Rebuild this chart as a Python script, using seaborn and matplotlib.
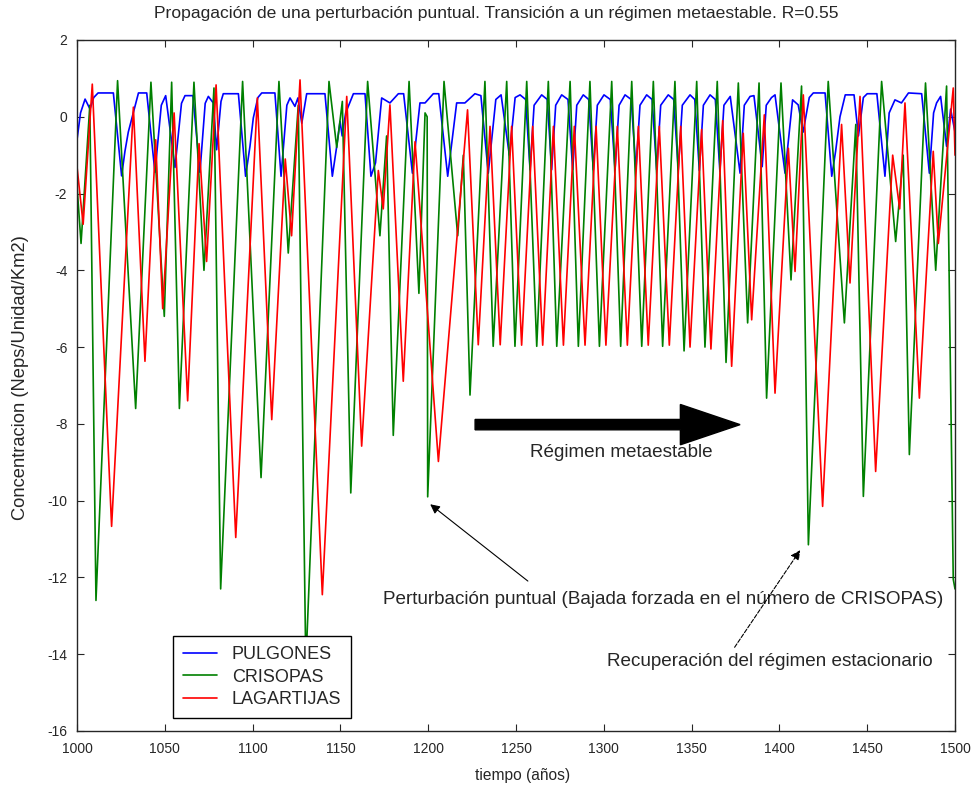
import numpy as np
import pandas as pd
import matplotlib
matplotlib.use('Agg')
import matplotlib.pyplot as plt
import seaborn as sns

# Peaks and troughs (year, concentration)
green_t = [1000, 1002.3, 1007.3, 1010.8, 1023.1, 1033.4, 1042.1, 1049.7, 1053.9, 1058.3,
           1066.6, 1072.3, 1078.0, 1081.8, 1094.3, 1104.8, 1115.0, 1120.3, 1126.0, 1130.3,
           1143.5, 1147.9, 1151.1, 1155.9, 1165.5, 1172.5, 1176.3, 1180.1, 1189.1, 1194.7,
           1198.2, 1199.4, 1199.7, 1209.0, 1216.8, 1220.0, 1223.8, 1232.3, 1237.0, 1244.7,
           1249.4, 1256.1, 1261.8, 1268.4, 1273.2, 1280.8, 1285.5, 1292.1, 1297.5, 1304.5,
           1309.6, 1315.9, 1321.6, 1328.2, 1333.5, 1340.5, 1345.7, 1352.9, 1357.6, 1364.6,
           1369.6, 1376.6, 1381.9, 1388.4, 1392.7, 1400.9, 1406.6, 1412.6, 1416.5, 1427.8,
           1437.0, 1443.5, 1447.8, 1458.2, 1466.2, 1470.5, 1474.0, 1483.2, 1489.0, 1495.2,
           1499.0, 1500]
green_v = [-1.8, -3.3, 0.3, -12.6, 0.94, -7.6, 0.9, -5.2, 0.9, -7.6,
           0.9, -4.0, 0.75, -12.3, 0.92, -9.4, 0.92, -3.55, 0.3, -14.3,
           0.92, -0.8, 0.4, -9.8, 0.92, -3.1, -0.5, -8.3, 0.92, -4.6,
           0.1, 0.0, -9.9, 0.92, -3.1, -1.0, -7.25, 0.92, -5.98, 0.92,
           -5.98, 0.92, -5.98, 0.92, -5.98, 0.92, -5.98, 0.92, -5.98, 0.92,
           -5.98, 0.92, -5.98, 0.92, -5.98, 0.92, -6.1, 0.92, -6.0, 0.92,
           -6.4, 0.88, -5.37, 0.88, -7.33, 0.88, -4.25, 0.8, -11.15, 0.92,
           -5.37, -0.2, -9.89, 0.92, -3.25, -1.0, -8.8, 0.88, -4.0, 0.8,
           -12.05, -12.3]

red_t = [1000, 1003.5, 1008.7, 1019.7, 1032.1, 1038.7, 1044.8, 1048.8, 1055.3, 1063.0,
         1069.5, 1073.8, 1079.2, 1090.4, 1102.7, 1110.9, 1118.6, 1122.2, 1127.0, 1139.7,
         1153.6, 1162.1, 1171.6, 1174.4, 1178.2, 1185.8, 1192.5, 1205.8, 1222.4, 1228.5,
         1235.2, 1241.0, 1247.5, 1253.2, 1259.5, 1265.2, 1271.3, 1277.0, 1283.2, 1289.3,
         1295.6, 1301.2, 1307.7, 1313.4, 1319.7, 1325.3, 1331.6, 1337.3, 1343.8, 1349.1,
         1355.7, 1361.0, 1367.7, 1372.8, 1379.4, 1384.2, 1391.4, 1397.5, 1405.1, 1408.9,
         1413.6, 1424.6, 1435.4, 1440.2, 1445.9, 1454.8, 1464.5, 1468.5, 1471.5, 1479.7,
         1487.6, 1490.5, 1499.0, 1500]
red_v = [-1.3, -2.8, 0.85, -10.67, 0.25, -6.37, -0.6, -5.0, 0.1, -7.4,
         -0.7, -3.77, 0.83, -10.96, 0.49, -7.89, -1.1, -3.1, 0.96, -12.45,
         0.53, -8.58, -1.4, -2.4, 0.31, -6.89, -0.65, -8.98, 0.18, -5.94,
         -0.25, -5.94, -0.25, -5.95, -0.25, -5.95, -0.25, -5.95, -0.25, -5.95,
         -0.25, -5.95, -0.25, -5.95, -0.25, -5.95, -0.25, -5.95, -0.25, -6.0,
         -0.33, -6.05, -0.1, -6.5, -0.43, -5.29, 0.05, -7.2, -0.82, -4.03,
         0.57, -10.15, -0.2, -4.33, 0.53, -9.24, -1.0, -2.4, 0.36, -7.33,
         -0.9, -3.3, 0.75, -1.0]

blue_t = [1000, 1002.0, 1004.6, 1007.4, 1009.5, 1012.0, 1020.7, 1025.4, 1027.3, 1029.2,
          1032.1, 1035.0, 1039.7, 1044.4, 1048.0, 1050.5, 1055.8, 1059.5, 1061.5, 1066.0,
          1070.0, 1073.0, 1074.8, 1077.6, 1079.5, 1082.0, 1083.3, 1091.9, 1096.0, 1098.5,
          1100.4, 1103.0, 1105.2, 1112.7, 1116.2, 1119.5, 1121.3, 1124.1, 1125.8, 1128.0,
          1130.8, 1141.2, 1145.4, 1147.9, 1149.8, 1151.0, 1153.0, 1157.4, 1164.0, 1167.4,
          1170.0, 1173.5, 1178.2, 1183.0, 1186.0, 1191.0, 1195.3, 1198.2, 1202.9, 1206.0,
          1211.1, 1216.2, 1220.9, 1226.6, 1230.0, 1234.2, 1238.5, 1241.5, 1246.2, 1249.5,
          1252.3, 1255.5, 1258.0, 1260.3, 1264.6, 1267.8, 1270.3, 1272.6,
          1276.0, 1279.6, 1282.3, 1284.6, 1288.3, 1291.4, 1294.0, 1296.3,
          1300.1, 1303.7, 1306.4, 1308.7, 1312.1, 1315.6, 1318.3, 1320.6,
          1324.4, 1327.5, 1330.1, 1332.4, 1336.7, 1339.8, 1342.4, 1344.7,
          1349.1, 1351.8, 1354.4, 1356.7, 1360.5, 1363.5, 1366.1, 1368.4,
          1372.0, 1377.6, 1380.0, 1383.3, 1385.5, 1390.2, 1392.5, 1395.5, 1397.5, 1403.2,
          1407.5, 1410.7, 1413.5, 1417.0, 1419.3, 1426.0, 1429.8, 1432.0, 1434.5, 1437.5,
          1442.5, 1445.0, 1447.8, 1450.0, 1455.5, 1460.1, 1462.5, 1465.8, 1469.5, 1473.5,
          1481.0, 1485.4, 1487.8, 1489.5, 1491.8, 1495.2, 1497.5, 1500]
blue_v = [-0.6, 0.1, 0.46, 0.2, 0.5, 0.62, 0.62, -1.54, -0.9, -0.4,
          0.11, 0.62, 0.62, -1.45, 0.3, 0.55, -1.32, 0.35, 0.55, 0.55,
          -1.45, 0.35, 0.53, 0.36, -0.86, 0.4, 0.6, 0.6, -1.55, -0.77,
          -0.03, 0.5, 0.62, 0.62, -1.55, 0.3, 0.49, 0.27, 0.49, -0.17,
          0.6, 0.6, -1.55, -0.77, -0.12, -0.5, 0.1, 0.6, 0.6, -1.55,
          -1.2, 0.49, 0.36, 0.6, 0.6, -1.47, 0.36, 0.36, 0.6, 0.6,
          -1.55, 0.36, 0.36, 0.6, 0.55, -1.47, 0.45, 0.57, -1.0, 0.5,
          0.57, 0.45, -1.38, 0.3, 0.57, 0.45, -1.38, 0.3,
          0.57, 0.45, -1.38, 0.3, 0.57, 0.45, -1.38, 0.3,
          0.57, 0.45, -1.38, 0.3, 0.57, 0.45, -1.38, 0.3,
          0.57, 0.45, -1.38, 0.3, 0.57, 0.45, -1.38, 0.3,
          0.57, 0.45, -1.4, 0.3, 0.57, 0.45, -1.42, 0.3,
          0.53, -1.47, 0.3, 0.53, 0.55, -1.3, 0.3, 0.5, 0.57, -1.47,
          0.44, 0.31, -0.4, 0.5, 0.62, 0.62, -1.55, -0.9, 0.0, 0.57,
          0.57, -0.5, 0.5, 0.6, 0.6, -1.55, 0.1, 0.44, 0.36, 0.62,
          0.6, -1.47, 0.1, 0.36, 0.53, -0.77, 0.2, -0.4]

x_ticks = list(range(1000, 1501, 50))
y_ticks = list(range(-16, 3, 2))

sns.set_style('ticks')
plt.rcParams['font.family'] = ['Liberation Sans', 'DejaVu Sans']
plt.rcParams['axes.unicode_minus'] = False

fig, ax = plt.subplots(figsize=(9.76, 7.87), dpi=100)
fig.subplots_adjust(left=0.0789, right=0.9785, bottom=0.0712, top=0.9492)

sns.lineplot(x=blue_t, y=blue_v, color='#0000ff', lw=1.2, label='PULGONES', ax=ax, sort=False, estimator=None)
sns.lineplot(x=green_t, y=green_v, color='#008000', lw=1.2, label='CRISOPAS', ax=ax, sort=False, estimator=None)
sns.lineplot(x=red_t, y=red_v, color='#ff0000', lw=1.2, label='LAGARTIJAS', ax=ax, sort=False, estimator=None)

ax.set_xlim(1000, 1500)
ax.set_ylim(-16, 2)
ax.set_xticks(x_ticks)
ax.set_yticks(y_ticks)
ax.tick_params(axis='both', direction='in', top=True, right=True, length=5, labelsize=10)
ax.tick_params(axis='x', pad=8)
ax.tick_params(axis='y', pad=7)
for s in ax.spines.values():
    s.set_visible(True)
    s.set_linewidth(1.0)

ax.text(0.478, 1 + 26 / 691, 'Propagación de una perturbación puntual. Transición a un régimen metaestable. R=0.55',
        transform=ax.transAxes, fontsize=12.6, ha='center', va='center')
ax.set_xlabel('tiempo (años)', fontsize=11.2)
ax.xaxis.set_label_coords(0.507, -0.053)
ax.set_ylabel('Concentracion (Neps/Unidad/Km2)', fontsize=13.2)
ax.yaxis.set_label_coords(-0.055, 0.511)

# big arrow for the metastable regime
ax.arrow(1226.7, -8.02, 150.9, 0, width=0.27, head_width=1.05, head_length=34,
         length_includes_head=True, color='black')
ax.text(1309.8, -8.75, 'Régimen metaestable', fontsize=13.6, ha='center', va='center')

ax.annotate('', xy=(1199.9, -10.05), xytext=(1258.0, -12.14),
            arrowprops=dict(arrowstyle='-|>', color='black', lw=0.8, mutation_scale=14))
ax.text(1174.3, -12.58, 'Perturbación puntual (Bajada forzada en el número de CRISOPAS)',
        fontsize=13.6, ha='left', va='center')

ax.annotate('', xy=(1412.7, -11.23), xytext=(1373.6, -13.88),
            arrowprops=dict(arrowstyle='-|>', color='black', lw=0.8, ls='--', mutation_scale=14))
ax.text(1301.8, -14.2, 'Recuperación del régimen estacionario', fontsize=13.6, ha='left', va='center')

leg = ax.legend(loc='lower left', bbox_to_anchor=(0.1093, 0.0188), fontsize=13, frameon=True,
                fancybox=False, framealpha=1, edgecolor='black', borderpad=0.55,
                handlelength=1.9, handletextpad=0.8, labelspacing=0.3, borderaxespad=0)
leg.get_frame().set_linewidth(1.0)

fig.savefig('out.png', dpi=100)
